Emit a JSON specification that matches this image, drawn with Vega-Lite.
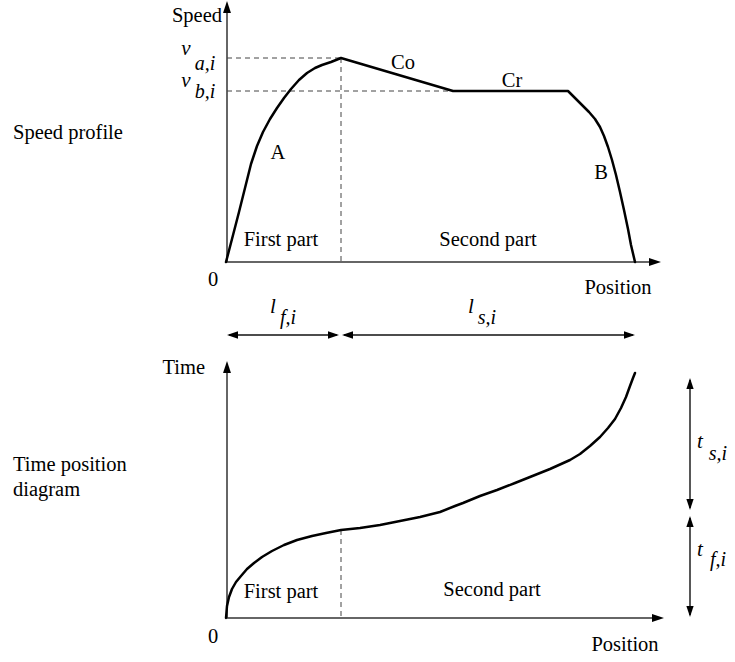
{
  "$schema": "https://vega.github.io/schema/vega-lite/v6.json",
  "width": 735,
  "height": 662,
  "autosize": {"type": "fit", "contains": "padding"},
  "padding": 0,
  "background": "white",
  "config": {"view": {"stroke": null}},
  "datasets": {
    "segs": [
      {"x": 227, "y": 262, "x2": 227, "y2": 10, "kind": "axis"},
      {"x": 227, "y": 262, "x2": 651, "y2": 262, "kind": "axis"},
      {"x": 227, "y": 618, "x2": 227, "y2": 370, "kind": "axis"},
      {"x": 227, "y": 618, "x2": 654, "y2": 618, "kind": "axis"},
      {"x": 229, "y": 335, "x2": 337, "y2": 335, "kind": "dim"},
      {"x": 344, "y": 335, "x2": 633, "y2": 335, "kind": "dim"},
      {"x": 690, "y": 380, "x2": 690, "y2": 508, "kind": "dim"},
      {"x": 690, "y": 518, "x2": 690, "y2": 615, "kind": "dim"},
      {"x": 227, "y": 58, "x2": 341, "y2": 58, "kind": "guide"},
      {"x": 227, "y": 91, "x2": 453, "y2": 91, "kind": "guide"},
      {"x": 341, "y": 58, "x2": 341, "y2": 262, "kind": "guide"},
      {"x": 341, "y": 530, "x2": 341, "y2": 618, "kind": "guide"}
    ],
    "heads": [
      {"x": 227, "y": 1, "dir": "up", "kind": "axis"},
      {"x": 661, "y": 262, "dir": "right", "kind": "axis"},
      {"x": 227, "y": 361, "dir": "up", "kind": "axis"},
      {"x": 664, "y": 618, "dir": "right", "kind": "axis"},
      {"x": 227, "y": 335, "dir": "left", "kind": "dim"},
      {"x": 339, "y": 335, "dir": "right", "kind": "dim"},
      {"x": 342, "y": 335, "dir": "left", "kind": "dim"},
      {"x": 635, "y": 335, "dir": "right", "kind": "dim"},
      {"x": 690, "y": 378, "dir": "up", "kind": "dim"},
      {"x": 690, "y": 510, "dir": "down", "kind": "dim"},
      {"x": 690, "y": 516, "dir": "up", "kind": "dim"},
      {"x": 690, "y": 617, "dir": "down", "kind": "dim"}
    ],
    "curves": [
      {"curve": "speed", "x": 226, "y": 262},
      {"curve": "speed", "x": 232, "y": 239},
      {"curve": "speed", "x": 239, "y": 212},
      {"curve": "speed", "x": 245, "y": 188},
      {"curve": "speed", "x": 251, "y": 164},
      {"curve": "speed", "x": 257, "y": 146},
      {"curve": "speed", "x": 263, "y": 132},
      {"curve": "speed", "x": 270, "y": 119},
      {"curve": "speed", "x": 277, "y": 108},
      {"curve": "speed", "x": 284, "y": 98},
      {"curve": "speed", "x": 291, "y": 89},
      {"curve": "speed", "x": 299, "y": 80},
      {"curve": "speed", "x": 307, "y": 73},
      {"curve": "speed", "x": 315, "y": 68},
      {"curve": "speed", "x": 322, "y": 65},
      {"curve": "speed", "x": 331, "y": 62},
      {"curve": "speed", "x": 341, "y": 58},
      {"curve": "speed", "x": 453, "y": 91},
      {"curve": "speed", "x": 568, "y": 91},
      {"curve": "speed", "x": 575, "y": 98},
      {"curve": "speed", "x": 582, "y": 105},
      {"curve": "speed", "x": 589, "y": 112},
      {"curve": "speed", "x": 595, "y": 119},
      {"curve": "speed", "x": 600, "y": 127},
      {"curve": "speed", "x": 604, "y": 136},
      {"curve": "speed", "x": 608, "y": 147},
      {"curve": "speed", "x": 612, "y": 160},
      {"curve": "speed", "x": 616, "y": 175},
      {"curve": "speed", "x": 620, "y": 192},
      {"curve": "speed", "x": 624, "y": 210},
      {"curve": "speed", "x": 628, "y": 229},
      {"curve": "speed", "x": 631, "y": 245},
      {"curve": "speed", "x": 635, "y": 262},
      {"curve": "time", "x": 226, "y": 618},
      {"curve": "time", "x": 227, "y": 606},
      {"curve": "time", "x": 229, "y": 597},
      {"curve": "time", "x": 232, "y": 589},
      {"curve": "time", "x": 236, "y": 582},
      {"curve": "time", "x": 241, "y": 576},
      {"curve": "time", "x": 247, "y": 569},
      {"curve": "time", "x": 254, "y": 563},
      {"curve": "time", "x": 262, "y": 557},
      {"curve": "time", "x": 272, "y": 551},
      {"curve": "time", "x": 284, "y": 545},
      {"curve": "time", "x": 297, "y": 540},
      {"curve": "time", "x": 312, "y": 536},
      {"curve": "time", "x": 326, "y": 533},
      {"curve": "time", "x": 341, "y": 530},
      {"curve": "time", "x": 360, "y": 528},
      {"curve": "time", "x": 380, "y": 525},
      {"curve": "time", "x": 400, "y": 521},
      {"curve": "time", "x": 420, "y": 517},
      {"curve": "time", "x": 440, "y": 512},
      {"curve": "time", "x": 455, "y": 506},
      {"curve": "time", "x": 463, "y": 503},
      {"curve": "time", "x": 480, "y": 496},
      {"curve": "time", "x": 497, "y": 490},
      {"curve": "time", "x": 515, "y": 483},
      {"curve": "time", "x": 530, "y": 477},
      {"curve": "time", "x": 550, "y": 469},
      {"curve": "time", "x": 570, "y": 460},
      {"curve": "time", "x": 580, "y": 454},
      {"curve": "time", "x": 590, "y": 446},
      {"curve": "time", "x": 600, "y": 437},
      {"curve": "time", "x": 608, "y": 428},
      {"curve": "time", "x": 615, "y": 419},
      {"curve": "time", "x": 621, "y": 408},
      {"curve": "time", "x": 626, "y": 397},
      {"curve": "time", "x": 630, "y": 386},
      {"curve": "time", "x": 633, "y": 378},
      {"curve": "time", "x": 635, "y": 373}
    ],
    "labels": [
      {"x": 278, "y": 153, "text": "A", "role": "label"},
      {"x": 601, "y": 173, "text": "B", "role": "label"},
      {"x": 403, "y": 63, "text": "Co", "role": "label"},
      {"x": 512, "y": 81, "text": "Cr", "role": "label"},
      {"x": 281, "y": 240, "text": "First part", "role": "label"},
      {"x": 488, "y": 240, "text": "Second part", "role": "label"},
      {"x": 213, "y": 280, "text": "0", "role": "label"},
      {"x": 618, "y": 288, "text": "Position", "role": "label"},
      {"x": 281, "y": 592, "text": "First part", "role": "label"},
      {"x": 492, "y": 590, "text": "Second part", "role": "label"},
      {"x": 213, "y": 637, "text": "0", "role": "label"},
      {"x": 625, "y": 645, "text": "Position", "role": "label"},
      {"x": 222, "y": 16, "text": "Speed", "role": "axis"},
      {"x": 205, "y": 368, "text": "Time", "role": "axis"},
      {"x": 13, "y": 133, "text": "Speed profile", "role": "panel"},
      {"x": 13, "y": 465, "text": "Time position", "role": "panel"},
      {"x": 13, "y": 490, "text": "diagram", "role": "panel"},
      {"x": 186, "y": 55, "text": "v", "role": "math"},
      {"x": 205, "y": 70, "text": "a,i", "role": "sub"},
      {"x": 186, "y": 87, "text": "v", "role": "math"},
      {"x": 205, "y": 98, "text": "b,i", "role": "sub"},
      {"x": 273, "y": 313, "text": "l", "role": "math"},
      {"x": 288, "y": 324, "text": "f,i", "role": "sub"},
      {"x": 471, "y": 313, "text": "l", "role": "math"},
      {"x": 487, "y": 324, "text": "s,i", "role": "sub"},
      {"x": 700, "y": 448, "text": "t", "role": "math"},
      {"x": 718, "y": 460, "text": "s,i", "role": "sub"},
      {"x": 700, "y": 556, "text": "t", "role": "math"},
      {"x": 718, "y": 566, "text": "f,i", "role": "sub"}
    ]
  },
  "encoding": {
    "x": {"field": "x", "type": "quantitative", "scale": {"domain": [0, 735], "nice": false, "zero": false}, "axis": null},
    "y": {"field": "y", "type": "quantitative", "scale": {"domain": [0, 662], "nice": false, "zero": false, "reverse": true}, "axis": null}
  },
  "layer": [
    {
      "data": {"name": "segs"},
      "transform": [{"filter": "datum.kind === 'axis'"}],
      "mark": {"type": "rule", "color": "#333333", "strokeWidth": 1.5},
      "encoding": {"x2": {"field": "x2"}, "y2": {"field": "y2"}}
    },
    {
      "data": {"name": "segs"},
      "transform": [{"filter": "datum.kind === 'dim'"}],
      "mark": {"type": "rule", "color": "#111111", "strokeWidth": 1.4},
      "encoding": {"x2": {"field": "x2"}, "y2": {"field": "y2"}}
    },
    {
      "data": {"name": "segs"},
      "transform": [{"filter": "datum.kind === 'guide'"}],
      "mark": {"type": "rule", "color": "#444444", "strokeWidth": 1, "strokeDash": [5, 4]},
      "encoding": {"x2": {"field": "x2"}, "y2": {"field": "y2"}}
    },
    {
      "data": {"name": "curves"},
      "mark": {"type": "line", "color": "black", "strokeWidth": 2.5, "strokeJoin": "round", "strokeCap": "round"},
      "encoding": {"detail": {"field": "curve"}}
    },
    {
      "data": {"name": "heads"},
      "transform": [{"filter": "datum.kind === 'axis'"}],
      "mark": {"type": "point", "filled": true, "color": "black", "opacity": 1, "size": 576, "strokeWidth": 0},
      "encoding": {
        "shape": {"field": "dir", "type": "nominal", "legend": null,
          "scale": {"domain": ["up", "down", "left", "right"],
            "range": ["M0,0L-0.33,1L0.33,1Z", "M0,0L-0.33,-1L0.33,-1Z", "M0,0L1,-0.33L1,0.33Z", "M0,0L-1,-0.33L-1,0.33Z"]}}
      }
    },
    {
      "data": {"name": "heads"},
      "transform": [{"filter": "datum.kind === 'dim'"}],
      "mark": {"type": "point", "filled": true, "color": "black", "opacity": 1, "size": 484, "strokeWidth": 0},
      "encoding": {
        "shape": {"field": "dir", "type": "nominal", "legend": null,
          "scale": {"domain": ["up", "down", "left", "right"],
            "range": ["M0,0L-0.3,1L0.3,1Z", "M0,0L-0.3,-1L0.3,-1Z", "M0,0L1,-0.3L1,0.3Z", "M0,0L-1,-0.3L-1,0.3Z"]}}
      }
    },
    {
      "data": {"name": "labels"},
      "transform": [{"filter": "datum.role === 'label'"}],
      "mark": {"type": "text", "font": "Liberation Serif", "fontSize": 20.5, "align": "center", "baseline": "middle", "color": "black"},
      "encoding": {"text": {"field": "text"}}
    },
    {
      "data": {"name": "labels"},
      "transform": [{"filter": "datum.role === 'axis'"}],
      "mark": {"type": "text", "font": "Liberation Serif", "fontSize": 20.5, "align": "right", "baseline": "middle", "color": "black"},
      "encoding": {"text": {"field": "text"}}
    },
    {
      "data": {"name": "labels"},
      "transform": [{"filter": "datum.role === 'panel'"}],
      "mark": {"type": "text", "font": "Liberation Serif", "fontSize": 20.5, "align": "left", "baseline": "middle", "color": "black"},
      "encoding": {"text": {"field": "text"}}
    },
    {
      "data": {"name": "labels"},
      "transform": [{"filter": "datum.role === 'math'"}],
      "mark": {"type": "text", "font": "Liberation Serif", "fontStyle": "italic", "fontSize": 21, "align": "center", "baseline": "alphabetic", "color": "black"},
      "encoding": {"text": {"field": "text"}}
    },
    {
      "data": {"name": "labels"},
      "transform": [{"filter": "datum.role === 'sub'"}],
      "mark": {"type": "text", "font": "Liberation Serif", "fontStyle": "italic", "fontSize": 20, "align": "center", "baseline": "alphabetic", "color": "black"},
      "encoding": {"text": {"field": "text"}}
    }
  ]
}
